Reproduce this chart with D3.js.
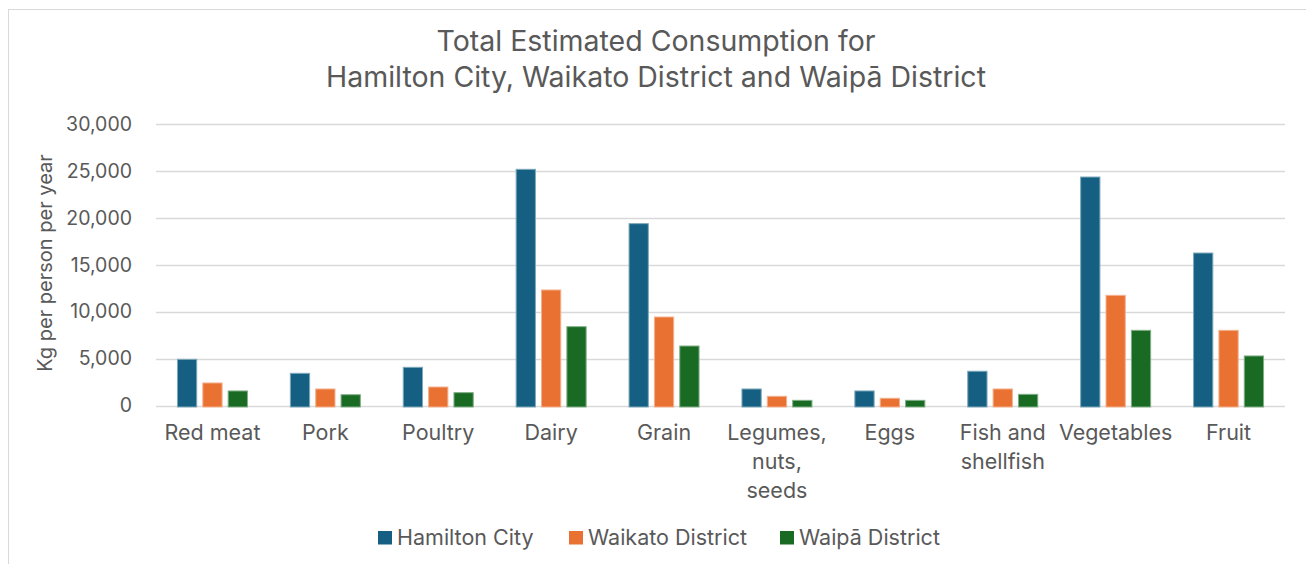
<!DOCTYPE html>
<html>
<head>
<meta charset="utf-8">
<script src="https://cdn.jsdelivr.net/npm/d3@7.9.0/dist/d3.min.js"></script>
<style>
  html, body { margin: 0; padding: 0; background: #fff; }
  svg { display: block; font-family: Inter, "Open Sans", sans-serif; }
</style>
</head>
<body>
<div id="chart"></div>
<script>
// data
const categories = ['Red meat', 'Pork', 'Poultry', 'Dairy', 'Grain', 'Legumes, nuts, seeds', 'Eggs', 'Fish and shellfish', 'Vegetables', 'Fruit'];
const categoryLines = [['Red meat'], ['Pork'], ['Poultry'], ['Dairy'], ['Grain'], ['Legumes,', 'nuts,', 'seeds'], ['Eggs'], ['Fish and', 'shellfish'], ['Vegetables'], ['Fruit']];
const seriesNames = ['Hamilton City', 'Waikato District', 'Waipā District'];
const hamilton = [4920, 3430, 4070, 25170, 19380, 1760, 1550, 3650, 24350, 16250];
const waikato = [2400, 1760, 1970, 12310, 9430, 980, 770, 1760, 11740, 8010];
const waipa = [1550, 1150, 1370, 8400, 6340, 550, 550, 1190, 8010, 5280];
const yTicks = [0, 5000, 10000, 15000, 20000, 25000, 30000];
const colors = ['#156082', '#E97132', '#196B24'];

const width = 1306;
const height = 564;
const plot = { left: 156, right: 1285, top: 124, bottom: 405.5 };
const textColor = '#595959';

const svg = d3.select('#chart').append('svg')
  .attr('width', width)
  .attr('height', height);

// chart frame
svg.append('rect')
  .attr('x', 8.5).attr('y', 9.5)
  .attr('width', width + 20).attr('height', height + 20)
  .attr('fill', 'none')
  .attr('stroke', '#d9d9d9');

// title
svg.append('text')
  .attr('text-anchor', 'middle')
  .attr('fill', textColor).attr('font-size', 28.5)
  .selectAll('tspan')
  .data(['Total Estimated Consumption for', 'Hamilton City, Waikato District and Waipā District'])
  .join('tspan')
  .attr('x', 656)
  .attr('y', (d, i) => 51 + i * 36)
  .text((d) => d);

const x0 = d3.scaleBand()
  .domain(categories)
  .range([plot.left, plot.right])
  .paddingInner(0.38)
  .paddingOuter(0.19);

const x1 = d3.scaleBand()
  .domain(seriesNames)
  .range([0, x0.bandwidth()])
  .paddingInner(0.24);

const y = d3.scaleLinear()
  .domain([0, 30000])
  .range([plot.bottom, plot.top]);

// gridlines
svg.append('g')
  .selectAll('line')
  .data(yTicks)
  .join('line')
  .attr('x1', plot.left).attr('x2', plot.right)
  .attr('y1', (d) => Math.round(y(d)) + 0.5)
  .attr('y2', (d) => Math.round(y(d)) + 0.5)
  .attr('stroke', '#d9d9d9')
  .attr('stroke-width', 1.3);

// y axis labels
const yAxis = d3.axisLeft(y)
  .tickValues(yTicks)
  .tickFormat(d3.format(','))
  .tickSize(0)
  .tickPadding(0);

svg.append('g')
  .attr('transform', `translate(132, 0)`)
  .call(yAxis)
  .call((g) => g.select('.domain').remove())
  .call((g) => g.selectAll('text')
    .attr('fill', textColor)
    .attr('font-size', 19.5)
    .attr('font-family', 'Inter, sans-serif'));

// y axis title
svg.append('text')
  .attr('transform', 'translate(52, 263) rotate(-90)')
  .attr('text-anchor', 'middle')
  .attr('fill', textColor)
  .attr('font-size', 20)
  .text('Kg per person per year');

// bars
const series = [hamilton, waikato, waipa];
const rows = categories.map((c, i) => ({
  category: c,
  values: seriesNames.map((s, j) => ({ series: s, value: series[j][i], color: colors[j] })),
}));

const groups = svg.append('g')
  .selectAll('g')
  .data(rows)
  .join('g')
  .attr('transform', (d) => `translate(${x0(d.category)}, 0)`);

groups.selectAll('rect')
  .data((d) => d.values)
  .join('rect')
  .attr('x', (d) => x1(d.series))
  .attr('y', (d) => y(d.value))
  .attr('width', x1.bandwidth())
  .attr('height', (d) => y(0) - y(d.value) + 1.5)
  .attr('fill', (d) => d.color)
  .attr('stroke', (d) => d3.interpolateRgb(d.color, '#fff')(0.45))
  .attr('stroke-width', 1);

// x axis labels
svg.append('g')
  .selectAll('text')
  .data(categories)
  .join('text')
  .attr('text-anchor', 'middle')
  .attr('fill', textColor)
  .attr('font-size', 21.5)
  .each(function (d, i) {
    d3.select(this).selectAll('tspan')
      .data(categoryLines[i])
      .join('tspan')
      .attr('x', x0(d) + x0.bandwidth() / 2)
      .attr('y', (t, k) => 440 + k * 29)
      .text((t) => t);
  });

// legend
const legendX = [378, 569, 780];
const legend = svg.append('g')
  .selectAll('g')
  .data(seriesNames)
  .join('g')
  .attr('transform', (d, i) => `translate(${legendX[i]}, 531)`);

legend.append('rect')
  .attr('width', 14).attr('height', 13.5)
  .attr('fill', (d, i) => colors[i]);

legend.append('text')
  .attr('x', 19).attr('y', 14)
  .attr('fill', textColor)
  .attr('font-size', 21.5)
  .text((d) => d);
</script>
</body>
</html>
